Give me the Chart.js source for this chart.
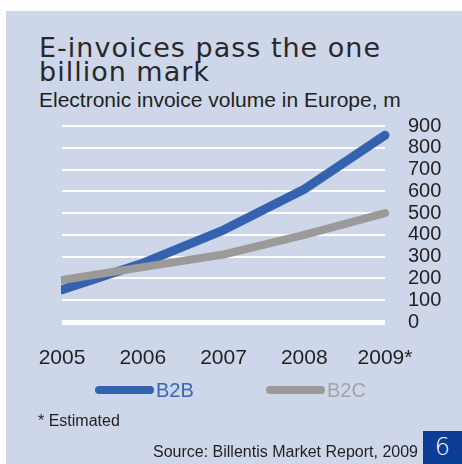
<!DOCTYPE html>
<html>
<head>
<meta charset="utf-8">
<script src="https://cdn.jsdelivr.net/npm/chart.js@4/dist/chart.umd.min.js"></script>
<style>
  html, body { margin: 0; padding: 0; background: #ffffff; }
  #page { position: relative; width: 462px; height: 464px; overflow: hidden; }
  #panel { position: absolute; left: 6px; top: 11px; width: 456px; height: 453px; background: #cdd7e9; }
  #chart { position: absolute; left: 0; top: 0; }
  .txt { position: absolute; white-space: nowrap; color: #231f20; font-family: "Liberation Sans", Arial, sans-serif; }
  #title { left: 39px; top: 36px; font-family: "DejaVu Sans", sans-serif; font-weight: 400; color: #2b2728; font-size: 27px; line-height: 24px; letter-spacing: 1px; }
  #subtitle { left: 39px; top: 89px; font-size: 21px; line-height: 21px; }
  #note { left: 38px; top: 413px; font-size: 16px; line-height: 16px; }
  #source { right: 44px; top: 444px; font-size: 16px; line-height: 16px; }
  #pagebox { position: absolute; left: 423px; top: 431px; width: 39px; height: 33px; background: #0b3c96; color: #ffffff;
             font-family: "DejaVu Sans", sans-serif; font-weight: 300; font-size: 24px; line-height: 33px; text-align: center; }
</style>
</head>
<body>
<div id="page">
  <div id="panel"></div>
  <div class="txt" id="title">E-invoices pass the one<br>billion mark</div>
  <div class="txt" id="subtitle">Electronic invoice volume in Europe, m</div>
  <canvas id="chart" width="462" height="464"></canvas>
  <div class="txt" id="note">* Estimated</div>
  <div class="txt" id="source">Source: Billentis Market Report, 2009</div>
  <div id="pagebox">6</div>
</div>
<script>
// Electronic invoice volume in Europe, millions
const years = ['2005', '2006', '2007', '2008', '2009*'];
const b2bVolume = [148, 270, 422, 610, 858];
const b2cVolume = [193, 252, 310, 400, 500];
const yMin = 0;
const yMax = 900;
const yStep = 100;

const BLUE = '#3462ae';
const GREY = '#9b9a98';

// Legend drawn as short rounded strokes followed by the series name in the series colour
const lineLegend = {
  id: 'lineLegend',
  afterDraw(chart, args, opts) {
    const ctx = chart.ctx;
    const items = chart.data.datasets;
    ctx.save();
    ctx.font = opts.font;
    ctx.textBaseline = 'middle';
    ctx.textAlign = 'left';
    items.forEach((ds, i) => {
      const x0 = opts.starts[i];
      ctx.strokeStyle = ds.borderColor;
      ctx.lineWidth = 8;
      ctx.lineCap = 'round';
      ctx.beginPath();
      ctx.moveTo(x0 + 4, opts.y);
      ctx.lineTo(x0 + opts.lineLength - 4, opts.y);
      ctx.stroke();
      ctx.fillStyle = ds.legendTextColor;
      ctx.fillText(ds.label, x0 + opts.lineLength + 2, opts.y + 1);
    });
    ctx.restore();
  }
};

new Chart(document.getElementById('chart'), {
  type: 'line',
  data: {
    labels: years,
    datasets: [
      {
        label: 'B2B',
        data: b2bVolume,
        borderColor: BLUE,
        legendTextColor: '#3a67b4',
        borderWidth: 9,
        borderCapStyle: 'round',
        borderJoinStyle: 'round',
        pointRadius: 0,
        tension: 0,
        order: 1,
        clip: { left: 1, top: false, right: false, bottom: false }
      },
      {
        label: 'B2C',
        data: b2cVolume,
        borderColor: GREY,
        legendTextColor: '#a4a4a4',
        borderWidth: 8,
        borderCapStyle: 'round',
        borderJoinStyle: 'round',
        pointRadius: 0,
        tension: 0,
        order: 0,
        clip: { left: 1, top: false, right: false, bottom: false }
      }
    ]
  },
  options: {
    responsive: false,
    animation: false,
    devicePixelRatio: 1,
    layout: { padding: { left: 62, right: 17, top: 126, bottom: 82 } },
    plugins: {
      legend: { display: false },
      tooltip: { enabled: false },
      lineLegend: {
        starts: [95, 266],
        lineLength: 59,
        y: 390,
        font: '20px "Liberation Sans", Arial, sans-serif'
      }
    },
    scales: {
      x: {
        offset: false,
        grid: { display: false, drawTicks: false },
        border: { display: false },
        ticks: {
          color: '#231f20',
          padding: 24,
          maxRotation: 0,
          autoSkip: false,
          font: { family: '"Liberation Sans", Arial, sans-serif', size: 21 }
        },
        afterFit(scale) { scale.height = 60; }
      },
      y: {
        position: 'right',
        min: yMin,
        max: yMax,
        grid: {
          color: '#ffffff',
          drawTicks: false,
          lineWidth: (c) => (c.tick && c.tick.value === 0 ? 5 : 2)
        },
        border: { display: false },
        ticks: {
          stepSize: yStep,
          autoSkip: false,
          color: '#231f20',
          padding: 23,
          font: { family: '"Liberation Sans", Arial, sans-serif', size: 20, lineHeight: 1 }
        },
        afterFit(scale) { scale.width = 60; }
      }
    }
  },
  plugins: [lineLegend]
});
</script>
</body>
</html>
